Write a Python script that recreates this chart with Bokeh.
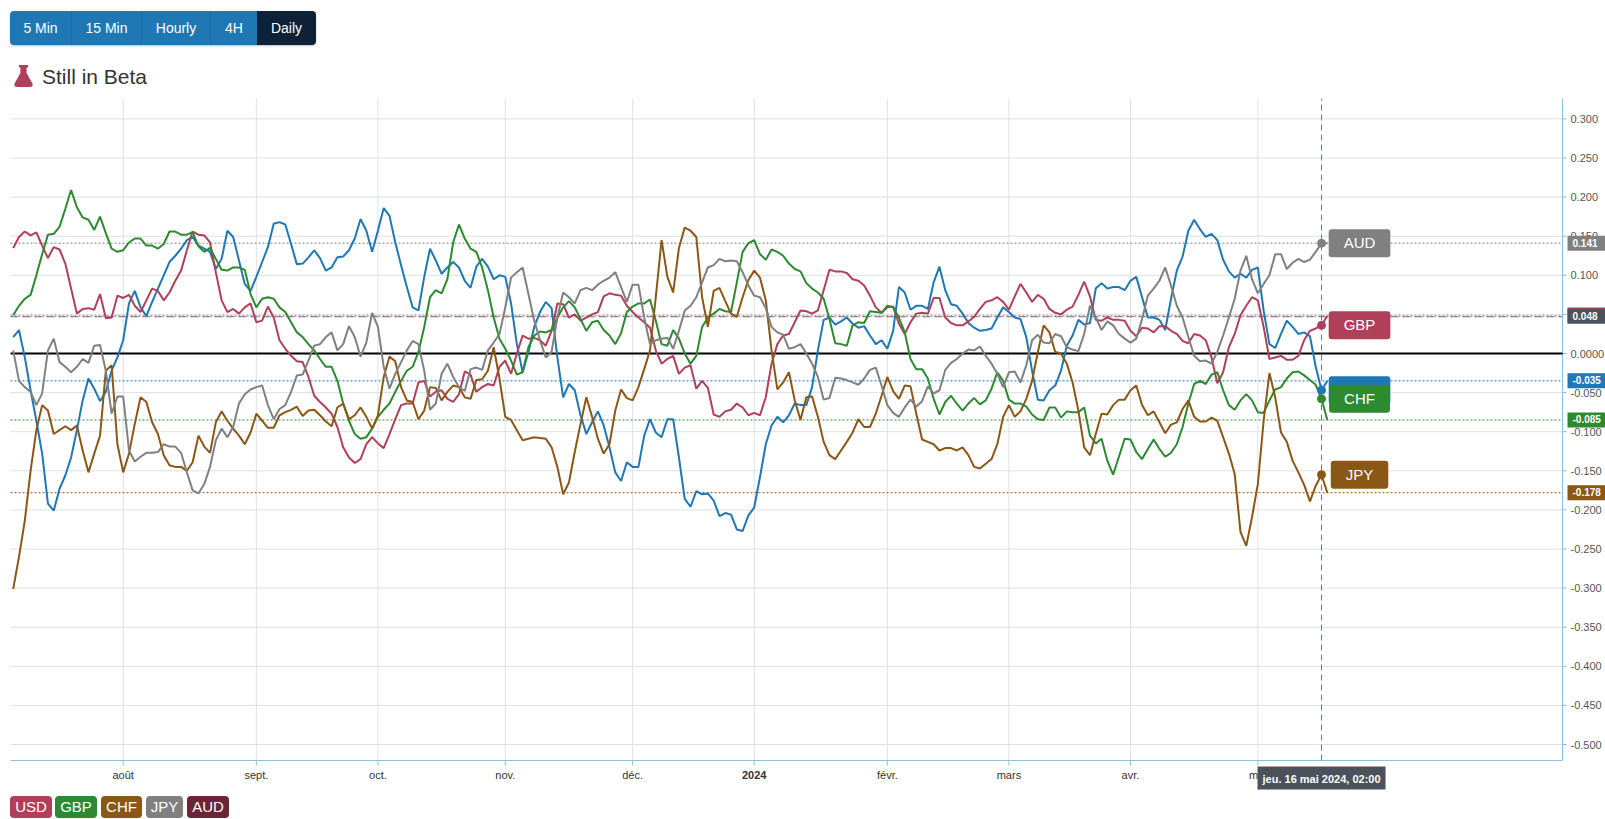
import numpy as np
import pandas as pd
from bokeh.plotting import figure
from bokeh.models import Label, Div, Range1d
from bokeh.core.properties import value
from bokeh.layouts import column
from bokeh.embed import file_html
from bokeh.resources import INLINE

# ---------------- data (daily, business days from 2023-07-05) ----------------
start_date = "2023-07-05"

usd = [0.021, 0.030, -0.005, -0.047, -0.086, -0.128, -0.192, -0.201, -0.173, -0.156, -0.133, -0.098, -0.060, -0.032,
       -0.045, -0.061, -0.049, -0.022, -0.005, 0.017, 0.064, 0.080, 0.059, 0.048, 0.066, 0.083, 0.100, 0.117, 0.125,
       0.134, 0.145, 0.149, 0.138, 0.134, 0.130, 0.108, 0.121, 0.157, 0.149, 0.119, 0.089, 0.080, 0.098, 0.117, 0.136,
       0.166, 0.168, 0.165, 0.140, 0.114, 0.115, 0.123, 0.132, 0.122, 0.106, 0.110,
       0.123, 0.124, 0.132, 0.147, 0.172, 0.157, 0.130, 0.157, 0.186, 0.176, 0.142, 0.113, 0.085, 0.059, 0.055, 0.098,
       0.134, 0.119, 0.102, 0.110, 0.117, 0.110, 0.093, 0.084, 0.111, 0.121, 0.111, 0.095, 0.100, 0.098, 0.064, 0.012,
       -0.024, 0.002, 0.034, 0.053, 0.066, 0.058, -0.005, -0.056, -0.039, -0.047, -0.079, -0.103, -0.088, -0.074,
       -0.092, -0.120, -0.152, -0.163, -0.139, -0.145, -0.145, -0.105, -0.084, -0.101, -0.107,
       -0.084, -0.084, -0.133, -0.186, -0.196, -0.176, -0.180, -0.179, -0.188, -0.208, -0.204, -0.206, -0.225, -0.227,
       -0.207, -0.197, -0.158, -0.116, -0.092, -0.081, -0.088, -0.079, -0.064, -0.066, -0.066, -0.043, 0.004, 0.043,
       0.046, 0.037, 0.041, 0.046, 0.038, 0.033, 0.035, 0.023, 0.012, 0.017, 0.006, 0.029, 0.085, 0.078, 0.056, 0.061,
       0.061, 0.057, 0.091, 0.111, 0.081, 0.063, 0.061, 0.051, 0.039, 0.033, 0.029, 0.030, 0.032,
       0.046, 0.059, 0.053, 0.046, 0.044, 0.021, -0.022, -0.059, -0.060, -0.047, -0.041, -0.022, 0.010, 0.023, 0.043,
       0.037, 0.039, 0.083, 0.090, 0.083, 0.085, 0.085, 0.081, 0.093, 0.098, 0.072, 0.046, 0.046, 0.043, 0.030, 0.070,
       0.106, 0.124, 0.157, 0.171, 0.159, 0.149, 0.153, 0.145, 0.120, 0.105, 0.097, 0.102, 0.097, 0.107, 0.110, 0.055,
       0.012, 0.007, 0.025, 0.042, 0.034, 0.025, 0.027, 0.022, -0.017, -0.047, -0.035]

gbp = [0.135, 0.149, 0.156, 0.151, 0.155, 0.138, 0.122, 0.136, 0.133, 0.115, 0.083, 0.051, 0.057, 0.058, 0.056,
       0.076, 0.045, 0.046, 0.074, 0.071, 0.075, 0.061, 0.053, 0.068, 0.083, 0.080, 0.068, 0.078, 0.093, 0.106, 0.132,
       0.156, 0.152, 0.151, 0.142, 0.104, 0.068, 0.053, 0.057, 0.051, 0.059, 0.064, 0.040, 0.042, 0.060, 0.046, 0.017,
       0.006, -0.003, -0.010, -0.011, -0.030, -0.054, -0.062, -0.069, -0.077,
       -0.094, -0.120, -0.133, -0.140, -0.135, -0.116, -0.107, -0.115, -0.121, -0.103, -0.084, -0.066, -0.064, -0.064,
       -0.037, -0.035, -0.055, -0.049, -0.047, -0.058, -0.062, -0.052, -0.023, -0.027, -0.049, -0.043, -0.039, -0.041,
       -0.017, -0.009, -0.026, 0.000, 0.023, 0.019, 0.020, 0.017, 0.010, 0.029, 0.064, 0.063, 0.046, 0.050, 0.042,
       0.046, 0.050, 0.053, 0.073, 0.077, 0.075, 0.074, 0.061, 0.053, 0.046, 0.040, 0.033, 0.004, -0.013,
       -0.007, -0.003, -0.026, -0.018, -0.015, -0.045, -0.035, -0.044, -0.078, -0.081, -0.074, -0.072, -0.064, -0.069,
       -0.079, -0.076, -0.079, -0.056, -0.013, 0.012, 0.023, 0.025, 0.040, 0.055, 0.054, 0.051, 0.055, 0.081, 0.107,
       0.105, 0.105, 0.103, 0.095, 0.093, 0.087, 0.074, 0.059, 0.052, 0.059, 0.060, 0.038, 0.025, 0.040, 0.051, 0.052,
       0.051, 0.071, 0.071, 0.046, 0.039, 0.036, 0.036, 0.041, 0.047, 0.057, 0.066, 0.068,
       0.072, 0.066, 0.056, 0.073, 0.089, 0.078, 0.066, 0.075, 0.070, 0.057, 0.052, 0.050, 0.056, 0.060, 0.075, 0.092,
       0.073, 0.043, 0.042, 0.046, 0.043, 0.043, 0.042, 0.029, 0.022, 0.033, 0.032, 0.027, 0.035, 0.035, 0.029, 0.025,
       0.016, 0.013, 0.025, 0.023, 0.017, -0.005, -0.038, -0.024, 0.008, 0.025, 0.049, 0.061, 0.072, 0.068, 0.034,
       -0.007, -0.005, -0.003, -0.008, -0.008, -0.003, 0.017, 0.029, 0.032, 0.036, 0.048]

chf = [0.049, 0.061, 0.070, 0.075, 0.100, 0.127, 0.152, 0.153, 0.162, 0.185, 0.209, 0.187, 0.174, 0.171, 0.158,
       0.175, 0.154, 0.134, 0.130, 0.132, 0.142, 0.147, 0.147, 0.138, 0.138, 0.134, 0.140, 0.156, 0.156, 0.152, 0.152,
       0.155, 0.137, 0.130, 0.135, 0.121, 0.107, 0.106, 0.110, 0.110, 0.107, 0.076, 0.059, 0.070, 0.072, 0.070, 0.059,
       0.053, 0.040, 0.027, 0.021, 0.012, 0.004, -0.007, -0.017, -0.017,
       -0.035, -0.064, -0.086, -0.103, -0.109, -0.107, -0.096, -0.081, -0.072, -0.064, -0.049, -0.035, -0.022, -0.017,
       0.002, 0.034, 0.072, 0.081, 0.077, 0.095, 0.142, 0.165, 0.147, 0.134, 0.130, 0.110, 0.081, 0.046, 0.019, 0.006,
       -0.009, -0.027, -0.024, 0.008, 0.023, 0.028, 0.027, 0.030, 0.046, 0.059, 0.067, 0.059, 0.044, 0.029, 0.040,
       0.042, 0.030, 0.023, 0.012, 0.026, 0.053, 0.060, 0.064, 0.064, 0.069, 0.042, 0.012,
       0.010, 0.030, 0.019, 0.000, -0.013, -0.003, 0.034, 0.046, 0.051, 0.057, 0.054, 0.053, 0.091, 0.130, 0.141,
       0.145, 0.127, 0.120, 0.133, 0.130, 0.125, 0.115, 0.108, 0.105, 0.090, 0.083, 0.078, 0.070, 0.044, 0.013, 0.012,
       0.010, 0.036, 0.040, 0.039, 0.054, 0.053, 0.052, 0.061, 0.059, 0.046, 0.027, -0.007, -0.020, -0.020, -0.032,
       -0.058, -0.078, -0.062, -0.054, -0.064, -0.073, -0.064, -0.057, -0.065, -0.060, -0.045,
       -0.024, -0.035, -0.059, -0.064, -0.064, -0.068, -0.078, -0.084, -0.085, -0.069, -0.069, -0.082, -0.074, -0.075,
       -0.075, -0.069, -0.105, -0.115, -0.109, -0.137, -0.155, -0.132, -0.109, -0.110, -0.126, -0.135, -0.122, -0.110,
       -0.122, -0.132, -0.127, -0.116, -0.094, -0.064, -0.039, -0.035, -0.039, -0.027, -0.024, -0.047, -0.066, -0.072,
       -0.060, -0.052, -0.060, -0.075, -0.076, -0.060, -0.046, -0.043, -0.032, -0.024, -0.023, -0.028, -0.034, -0.040,
       -0.058, -0.085]

jpy = [-0.301, -0.260, -0.214, -0.150, -0.098, -0.066, -0.073, -0.103, -0.098, -0.093, -0.098, -0.092, -0.124, -0.152,
       -0.128, -0.105, -0.022, -0.015, -0.116, -0.152, -0.128, -0.090, -0.056, -0.062, -0.088, -0.103, -0.130, -0.143,
       -0.145, -0.145, -0.150, -0.139, -0.105, -0.119, -0.127, -0.088, -0.074, -0.086, -0.096, -0.105, -0.116, -0.101,
       -0.077, -0.086, -0.095, -0.095, -0.079, -0.075, -0.072, -0.068, -0.080, -0.073, -0.072, -0.079, -0.087, -0.093,
       -0.069, -0.064, -0.084, -0.079, -0.069, -0.081, -0.096, -0.079, -0.030, -0.004, -0.010, -0.043, -0.060, -0.062,
       -0.084, -0.073, -0.043, -0.044, -0.060, -0.049, -0.041, -0.043, -0.056, -0.058, -0.034, -0.033, -0.022, 0.008,
       -0.032, -0.081, -0.085, -0.098, -0.111, -0.109, -0.107, -0.108, -0.109, -0.120, -0.145, -0.180, -0.165, -0.126,
       -0.090, -0.056, -0.081, -0.109, -0.128, -0.116, -0.073, -0.046, -0.057, -0.060, -0.043, -0.020, 0.004, 0.072,
       0.145,
       0.098, 0.078, 0.135, 0.161, 0.157, 0.149, 0.072, 0.034, 0.080, 0.084, 0.067, 0.051, 0.047, 0.072, 0.094, 0.106,
       0.097, 0.068, 0.004, -0.046, -0.037, -0.024, -0.060, -0.085, -0.056, -0.055, -0.081, -0.113, -0.130, -0.135,
       -0.124, -0.113, -0.101, -0.084, -0.094, -0.094, -0.077, -0.054, -0.030, -0.048, -0.058, -0.041, -0.042, -0.077,
       -0.110, -0.113, -0.116, -0.124, -0.121, -0.121, -0.124, -0.120, -0.130, -0.145, -0.147, -0.141, -0.135,
       -0.116, -0.081, -0.066, -0.081, -0.074, -0.058, -0.035, 0.002, 0.036, 0.027, 0.002, 0.000, -0.013, -0.037,
       -0.073, -0.120, -0.130, -0.103, -0.077, -0.078, -0.066, -0.059, -0.059, -0.047, -0.041, -0.066, -0.079, -0.074,
       -0.088, -0.102, -0.091, -0.088, -0.071, -0.060, -0.081, -0.087, -0.087, -0.082, -0.086, -0.107, -0.128, -0.154,
       -0.228, -0.246, -0.209, -0.167, -0.086, -0.025, -0.056, -0.101, -0.113, -0.137, -0.152, -0.168, -0.189, -0.169,
       -0.155, -0.178]

aud = [0.004, -0.035, -0.043, -0.049, -0.066, -0.051, 0.004, 0.019, -0.011, -0.017, -0.024, -0.017, -0.007, -0.012,
       0.010, 0.011, -0.022, -0.077, -0.055, -0.055, -0.124, -0.138, -0.132, -0.127, -0.127, -0.126, -0.116, -0.119,
       -0.119, -0.127, -0.152, -0.175, -0.179, -0.167, -0.145, -0.111, -0.096, -0.107, -0.094, -0.064, -0.052, -0.046,
       -0.043, -0.041, -0.066, -0.084, -0.071, -0.066, -0.049, -0.028, -0.027, -0.009, 0.010, 0.012, 0.021, 0.027,
       0.004, 0.012, 0.035, 0.021, -0.004, 0.014, 0.052, 0.034, -0.017, -0.045, -0.026, -0.011, 0.004, 0.016, 0.012,
       -0.022, -0.072, -0.064, -0.026, -0.013, -0.030, -0.043, -0.048, -0.020, -0.018, -0.021, 0.004, 0.014, 0.025,
       0.059, 0.097, 0.104, 0.110, 0.076, 0.042, 0.017, -0.005, 0.002, 0.046, 0.078, 0.072, 0.064, 0.081, 0.084, 0.081,
       0.088, 0.093, 0.097, 0.104, 0.085, 0.066, 0.088, 0.088, 0.046, 0.012, 0.017, 0.019,
       0.020, 0.006, 0.029, 0.055, 0.061, 0.072, 0.091, 0.110, 0.113, 0.121, 0.118, 0.119, 0.118, 0.104, 0.087, 0.074,
       0.072, 0.058, 0.034, 0.027, 0.024, 0.006, 0.008, 0.012, 0.000, -0.013, -0.030, -0.059, -0.057, -0.031, -0.032,
       -0.034, -0.037, -0.040, -0.032, -0.021, -0.018, -0.041, -0.066, -0.076, -0.081, -0.069, -0.059, -0.068, -0.061,
       -0.042, -0.051, -0.047, -0.021, -0.012, -0.007, 0.000, 0.005, 0.004, 0.009, -0.003, -0.013,
       -0.026, -0.043, -0.024, -0.023, -0.037, -0.015, 0.017, 0.024, 0.014, 0.013, 0.025, 0.022, 0.008, 0.005, 0.003,
       0.025, 0.061, 0.046, 0.030, 0.041, 0.036, 0.025, 0.019, 0.014, 0.019, 0.044, 0.074, 0.083, 0.093, 0.110, 0.087,
       0.061, 0.046, 0.021, -0.003, -0.010, -0.009, -0.013, 0.002, 0.023, 0.046, 0.070, 0.106, 0.125, 0.095, 0.077,
       0.089, 0.100, 0.127, 0.127, 0.108, 0.116, 0.121, 0.117, 0.120, 0.130, 0.141, 0.141]

series_names = ["USD", "GBP", "CHF", "JPY", "AUD"]
series_colors = ["#1f77b4", "#b0405a", "#2d8a30", "#8b5714", "#808080"]

month_labels = ["août", "sept.", "oct.", "nov.", "déc.", "2024", "févr.", "mars", "avr.", "mai"]
y_ticks = [0.3, 0.25, 0.2, 0.15, 0.1, 0.05, 0, -0.05, -0.1, -0.15, -0.2, -0.25, -0.3, -0.35, -0.4, -0.45, -0.5]
y_tick_labels = ["0.300", "0.250", "0.200", "0.150", "0.100", "0.050", "0.0000", "-0.050", "-0.100", "-0.150",
                 "-0.200", "-0.250", "-0.300", "-0.350", "-0.400", "-0.450", "-0.500"]

crosshair_value = 0.047
crosshair_label = "0.048"
tooltip_text = "jeu. 16 mai 2024, 02:00"
buttons = ["5 Min", "15 Min", "Hourly", "4H", "Daily"]
title_text = "Still in Beta"
legend_items = ["USD", "GBP", "CHF", "JPY", "AUD"]
legend_colors = ["#b0405a", "#2d8a30", "#8b5714", "#808080", "#6b2535"]

# ---------------- geometry (page pixels) ----------------
HEADER_H = 98
FIG_W, FIG_H = 1605, 692
PL, PR, PT, PB = 10, 1562, 98, 760        # plot box on the page
X0, DX = 12.71, 5.789                     # page x of first point, px per business day
Y0, DY = 353.0, 782.0                     # page y of zero, px per unit


def px2x(px):
    return (px - X0) / DX


def py2y(py):
    return (Y0 - py) / DY


# ---------------- build ----------------
all_series = [usd, gbp, chf, jpy, aud]
n = len(usd)
for s in all_series:
    assert len(s) == n, [len(a) for a in all_series]
dates = pd.bdate_range(start_date, periods=n)
xs = np.arange(n)
cross_idx = n - 2  # 16 May 2024
month_idx = [int(i) for i in range(1, n) if dates[i].month != dates[i - 1].month]

FONT = "Liberation Sans"

p = figure(width=FIG_W, height=FIG_H,
           x_range=Range1d(px2x(0), px2x(FIG_W)),
           y_range=Range1d(py2y(HEADER_H + FIG_H), py2y(HEADER_H)),
           x_axis_location=None, y_axis_location=None, toolbar_location=None, output_backend="svg",
           min_border_left=0, min_border_right=0, min_border_top=0, min_border_bottom=0)
p.outline_line_color = None
p.grid.visible = False
p.background_fill_color = "#ffffff"
p.border_fill_color = "#ffffff"

grid_c = "#dde1e5"
axis_blue = "#8dbfdf"
xl, xr = px2x(PL), px2x(PR)
yt, yb = py2y(PT), py2y(PB)

# grid
p.segment(x0=[xl] * len(y_ticks), x1=[xr] * len(y_ticks), y0=y_ticks, y1=y_ticks, line_color=grid_c, line_width=1)
p.segment(x0=month_idx, x1=month_idx, y0=[yb] * len(month_idx), y1=[yt] * len(month_idx), line_color=grid_c,
          line_width=1)

# axis lines and ticks
p.segment(x0=[xl], x1=[xr], y0=[yb], y1=[yb], line_color=axis_blue, line_width=1)
p.segment(x0=[xr], x1=[xr], y0=[yb], y1=[yt], line_color=axis_blue, line_width=1)
p.segment(x0=month_idx, x1=month_idx, y0=[yb] * len(month_idx), y1=[py2y(PB + 5)] * len(month_idx),
          line_color=axis_blue, line_width=1)
p.segment(x0=[xr] * len(y_ticks), x1=[px2x(PR + 4)] * len(y_ticks), y0=y_ticks, y1=y_ticks,
          line_color="#9aaebf", line_width=1)

# tick labels
p.text(x=[px2x(PR + 8)] * len(y_ticks), y=y_ticks, text=y_tick_labels, text_align="left", text_baseline="middle",
       text_font=value(FONT), text_font_size="11px", text_color="#555555")
reg = [(i, lab) for i, lab in zip(month_idx, month_labels) if lab != "2024"]
bold = [(i, lab) for i, lab in zip(month_idx, month_labels) if lab == "2024"]
p.text(x=[i for i, _ in reg], y=[py2y(PB + 14)] * len(reg), text=[lab for _, lab in reg], text_align="center",
       text_baseline="middle", text_font=value(FONT), text_font_size="11px", text_color="#333333")
p.text(x=[i for i, _ in bold], y=[py2y(PB + 14)] * len(bold), text=[lab for _, lab in bold], text_align="center",
       text_baseline="middle", text_font=value(FONT), text_font_size="11px", text_font_style="bold",
       text_color="#333333")

# zero line
p.segment(x0=[xl], x1=[xr], y0=[0], y1=[0], line_color="#000000", line_width=2)

# last-value dotted lines
p.segment(x0=[xl] * 5, x1=[xr] * 5, y0=[s[-1] for s in all_series], y1=[s[-1] for s in all_series],
          line_color=series_colors, line_width=1, line_dash="2 2")

# crosshair
p.segment(x0=[xl], x1=[xr], y0=[crosshair_value], y1=[crosshair_value], line_color="#6b7581", line_width=1,
          line_dash="8 4")
p.segment(x0=[cross_idx], x1=[cross_idx], y0=[yb], y1=[yt], line_color="#6b7581", line_width=1, line_dash="6 4")

# series lines
for s, c in zip(all_series, series_colors):
    p.line(xs, s, line_color=c, line_width=2)

# markers at crosshair
p.scatter([cross_idx] * 5, [s[cross_idx] for s in all_series], size=8, color=series_colors)

# callouts (blue first so CHF covers it); padding = (left, right, top, bottom)
for name, s, c in zip(series_names, all_series, series_colors):
    p.add_layout(Label(x=cross_idx, y=s[cross_idx], x_offset=38, text=name, text_align="center",
                       text_baseline="middle", text_font=FONT, text_font_size="15px", text_color="#ffffff",
                       background_fill_color=c, padding=(15, 15, 5, 6), border_radius=3))

# right axis value boxes
for s, c in zip(all_series, series_colors):
    yy = s[-1] + (1.0 / DY if c == "#b0405a" else 0.0)
    p.add_layout(Label(x=px2x(PR + 5), y=yy, text=f"{s[-1]:.3f}", text_align="left", text_baseline="middle",
                       text_font=FONT, text_font_size="10px", text_font_style="bold", text_color="#ffffff",
                       background_fill_color=c, padding=(5, 12, 3, 4)))
p.add_layout(Label(x=px2x(PR + 5), y=crosshair_value + 0.5 / DY, text=crosshair_label, text_align="left",
                   text_baseline="middle", text_font=FONT, text_font_size="10px", text_font_style="bold",
                   text_color="#ffffff", background_fill_color="#4b525c", padding=(5, 12, 3, 4)))

# date tooltip on x axis
p.add_layout(Label(x=cross_idx, y=py2y(PB + 6), text=tooltip_text, text_align="center",
                   text_baseline="top", text_font=FONT, text_font_size="11px", text_font_style="bold",
                   text_color="#ffffff", background_fill_color="#4b525c", padding=(5, 5, 6, 5)))

# ---------------- header & legend (HTML) ----------------
btn_widths = [62, 70, 69, 46, 59]
btn_html = ""
for i, (b, w) in enumerate(zip(buttons, btn_widths)):
    bg = "#0d2236" if b == "Daily" else "#1f78b4"
    border = "border-right:1px solid #1a69a0;" if i < len(buttons) - 2 else ""
    btn_html += (f'<div style="width:{w}px;height:34px;line-height:34px;text-align:center;background:{bg};'
                 f'color:#fff;font-size:14px;box-sizing:border-box;{border}">{b}</div>')
flask = ('<svg width="19" height="22" viewBox="0 0 19 22" style="position:absolute;left:14px;top:65px">'
         '<path d="M5 0 H14 V2.5 H12.6 V8 L18.4 18.6 Q19.6 22 16 22 H3 Q-0.6 22 0.6 18.6 L6.4 8 V2.5 H5 Z" '
         'fill="#b0405a"/></svg>')
header_html = (
    f'<div style="position:relative;width:{FIG_W}px;height:{HEADER_H}px;font-family:\'{FONT}\', Arial, sans-serif;">'
    f'<div style="position:absolute;left:10px;top:11px;display:flex;border-radius:4px;overflow:hidden;'
    f'box-shadow:0 1px 2px rgba(0,0,0,0.25);">{btn_html}</div>'
    f'{flask}'
    f'<div style="position:absolute;left:42px;top:64px;height:26px;line-height:26px;font-size:21px;'
    f'color:#333;">{title_text}</div></div>')
header = Div(text=header_html, width=FIG_W, height=HEADER_H, margin=(0, 0, 0, 0))

leg_left = [10, 55, 101, 146, 187]
leg_w = [42, 42, 41, 37, 42]
leg_html = f'<div style="position:relative;width:{FIG_W}px;height:28px;font-family:\'{FONT}\', Arial, sans-serif;">'
for name, c, l, w in zip(legend_items, legend_colors, leg_left, leg_w):
    leg_html += (f'<div style="position:absolute;left:{l}px;top:6px;width:{w}px;height:22px;line-height:22px;'
                 f'text-align:center;background:{c};color:#fff;font-size:15px;border-radius:4px;">{name}</div>')
leg_html += '</div>'
legend = Div(text=leg_html, width=FIG_W, height=28, margin=(0, 0, 0, 0))

layout = column(header, p, legend, spacing=0)
open("out.html", "w").write(file_html(layout, INLINE))
